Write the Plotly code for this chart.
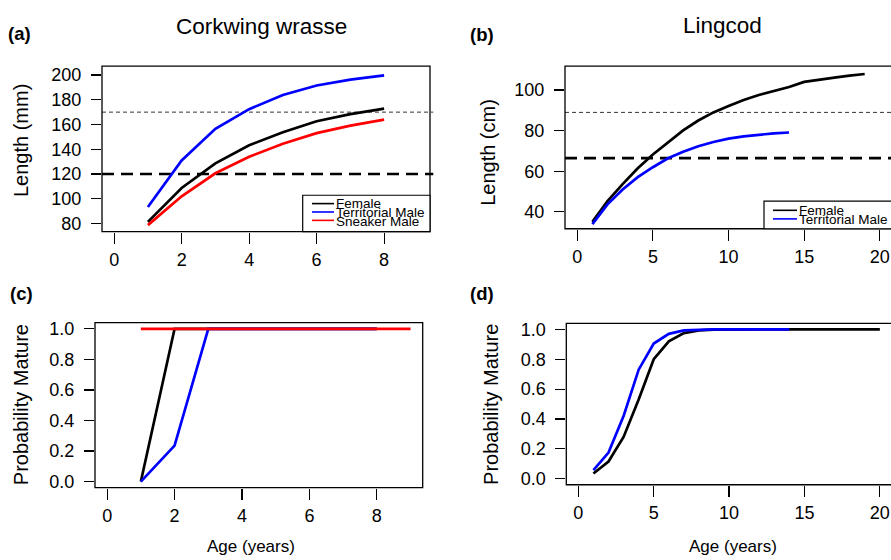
import plotly.graph_objects as go

W, H = 891, 560
FONT = "Liberation Sans, Arial, sans-serif"

# ---------------- data ----------------
ages_cw = [1, 2, 3, 4, 5, 6, 7, 8]
ages_cw_sneak = [1, 2, 3, 4, 5, 6, 7, 8, 9]
cw_female_len = [81.3, 108.7, 128.6, 143.2, 153.8, 162.6, 168.4, 172.9]
cw_terr_len = [93.3, 131.0, 156.5, 172.4, 183.8, 191.5, 196.3, 199.7]
cw_sneak_len = [78.7, 102.0, 120.6, 133.9, 144.5, 153.0, 159.1, 163.9]
cw_female_mat = [0, 1, 1, 1, 1, 1, 1, 1]
cw_terr_mat = [0, 0.235, 1, 1, 1, 1, 1, 1]
cw_sneak_mat = [1, 1, 1, 1, 1, 1, 1, 1, 1]
cw_hlines = [120, 170]  # thick dashed, thin dashed

ages_lc_f = list(range(1, 20))
ages_lc_m = list(range(1, 15))
lc_female_len = [35.1, 45.3, 53.7, 61.5, 68.3, 74.4, 80.1, 85.0, 89.0, 92.2,
                 95.1, 97.6, 99.5, 101.5, 104.0, 105.2, 106.1, 107.1, 107.9]
lc_terr_len = [34.0, 43.7, 51.0, 57.1, 62.0, 66.4, 69.6, 72.3, 74.4, 76.1,
               77.2, 78.0, 78.7, 79.1]
ages_lc_f_mat = list(range(1, 21))
lc_female_mat = [0.035, 0.115, 0.28, 0.53, 0.80, 0.92, 0.975, 0.993, 0.998, 1,
                 1, 1, 1, 1, 1, 1, 1, 1, 1, 1]
lc_terr_mat = [0.058, 0.175, 0.42, 0.73, 0.905, 0.97, 0.993, 0.998, 1, 1,
               1, 1, 1, 1]
lc_hlines = [66.5, 89.0]

cw_x_ticks = [0, 2, 4, 6, 8]
lc_x_ticks = [0, 5, 10, 15, 20]
cw_len_ticks = [80, 100, 120, 140, 160, 180, 200]
lc_len_ticks = [40, 60, 80, 100]
mat_ticks = [0.0, 0.2, 0.4, 0.6, 0.8, 1.0]
mat_tick_text = ["0.0", "0.2", "0.4", "0.6", "0.8", "1.0"]

series_cw = ["Female", "Territorial Male", "Sneaker Male"]
series_lc = ["Female", "Territorial Male"]
colors = {"Female": "black", "Territorial Male": "#0000ff", "Sneaker Male": "#ff0000"}

LW = 2.7

fig = go.Figure()


def line(x, y, color, xa, ya):
    fig.add_trace(go.Scatter(x=x, y=y, mode="lines", line=dict(color=color, width=LW),
                             xaxis=xa, yaxis=ya, showlegend=False, hoverinfo="skip"))


# (a)
line(ages_cw, cw_female_len, colors["Female"], "x", "y")
line(ages_cw, cw_terr_len, colors["Territorial Male"], "x", "y")
line(ages_cw, cw_sneak_len, colors["Sneaker Male"], "x", "y")
# (b)
line(ages_lc_f, lc_female_len, colors["Female"], "x2", "y2")
line(ages_lc_m, lc_terr_len, colors["Territorial Male"], "x2", "y2")
# (c)
line(ages_cw, cw_female_mat, colors["Female"], "x3", "y3")
line(ages_cw, cw_terr_mat, colors["Territorial Male"], "x3", "y3")
line(ages_cw_sneak, cw_sneak_mat, colors["Sneaker Male"], "x3", "y3")
# (d)
line(ages_lc_f_mat, lc_female_mat, colors["Female"], "x4", "y4")
line(ages_lc_m, lc_terr_mat, colors["Territorial Male"], "x4", "y4")


def px(x):
    return x / W


def py(y):
    return 1 - y / H


tickfont = dict(family=FONT, size=18, color="black")


def xax(dom, rng, tv):
    return dict(domain=dom, range=rng, tickvals=tv, ticks="outside", ticklen=11,
                tickwidth=1.2, tickcolor="black", showgrid=False, zeroline=False,
                showline=False, tickfont=tickfont, fixedrange=True, ticklabelstandoff=1)


def yax(dom, rng, tv, tt=None):
    d = dict(domain=dom, range=rng, tickvals=tv, ticks="outside", ticklen=10,
             tickwidth=1.2, tickcolor="black", showgrid=False, zeroline=False,
             showline=False, tickfont=tickfont, fixedrange=True, ticklabelstandoff=6)
    if tt is not None:
        d["ticktext"] = tt
    return d


dom_a_x = [px(102), px(430)]
dom_a_y = [py(231), py(63)]
dom_b_x = [px(565), 1.0]
dom_b_y = [py(228), py(63)]
dom_c_x = [px(95), px(422.7)]
dom_c_y = [py(490.7), py(323.3)]
dom_d_x = [px(566.3), 1.0]
dom_d_y = [py(487.7), py(324)]

fig.update_layout(
    width=W, height=H, margin=dict(l=0, r=0, t=0, b=0),
    paper_bgcolor="white", plot_bgcolor="white", showlegend=False,
    xaxis=dict(**xax(dom_a_x, [-0.36, 9.36], cw_x_ticks), anchor="y"),
    yaxis=dict(**yax(dom_a_y, [73.4, 207.2], cw_len_ticks), anchor="x"),
    xaxis2=dict(**xax(dom_b_x, [-0.81, 20.74], lc_x_ticks), anchor="y2"),
    yaxis2=dict(**yax(dom_b_y, [31.7, 111.8], lc_len_ticks), anchor="x2"),
    xaxis3=dict(**xax(dom_c_x, [-0.36, 9.36], cw_x_ticks), anchor="y3"),
    yaxis3=dict(**yax(dom_c_y, [-0.04, 1.04], mat_ticks, mat_tick_text), anchor="x3"),
    xaxis4=dict(**xax(dom_d_x, [-0.8, 20.74], lc_x_ticks), anchor="y4"),
    yaxis4=dict(**yax(dom_d_y, [-0.04, 1.04], mat_ticks, mat_tick_text), anchor="x4"),
)

shapes = []
# panel boxes
for xr, yr, x1 in [("x", "y", 1), ("x2", "y2", 1.006), ("x3", "y3", 1), ("x4", "y4", 1.006)]:
    shapes.append(dict(type="rect", xref=xr + " domain", yref=yr + " domain",
                       x0=0, x1=x1, y0=0, y1=1, line=dict(color="black", width=1.3),
                       layer="above"))
# reference lines
for xr, yr, hl in [("x", "y", cw_hlines), ("x2", "y2", lc_hlines)]:
    shapes.append(dict(type="line", xref=xr + " domain", yref=yr, x0=0, x1=1.01,
                       y0=hl[0], y1=hl[0], line=dict(color="black", width=2.7, dash="12px,7px"),
                       layer="below"))
    shapes.append(dict(type="line", xref=xr + " domain", yref=yr, x0=0, x1=1.01,
                       y0=hl[1], y1=hl[1], line=dict(color="#333333", width=1, dash="4px,3px"),
                       layer="below"))

annotations = []


def text(x, y, s, size, bold=False, angle=0, xanchor="center"):
    annotations.append(dict(x=px(x), y=py(y), xref="paper", yref="paper", text=(f"<b>{s}</b>" if bold else s),
                            showarrow=False, textangle=angle, xanchor=xanchor, yanchor="middle",
                            font=dict(family=FONT, size=size, color="black")))


# legends
def legend(x0, y0, x1, y1, names, line_x, ys, text_x, text_ys):
    shapes.append(dict(type="rect", xref="paper", yref="paper", x0=px(x0), x1=px(x1),
                       y0=py(y1), y1=py(y0), fillcolor="white",
                       line=dict(color="black", width=1.2), layer="above"))
    for n, yy, ty in zip(names, ys, text_ys):
        shapes.append(dict(type="line", xref="paper", yref="paper", x0=px(line_x[0]), x1=px(line_x[1]),
                           y0=py(yy), y1=py(yy), line=dict(color=colors[n], width=1.6), layer="above"))
        text(text_x, ty, n, 13.5, xanchor="left")


legend(302.7, 194, 430, 231, series_cw, (312, 334), [202.5, 211, 219.5], 334, [202.5, 212, 221])
legend(764, 200, 895, 228, series_lc, (773, 797), [209.3, 218], 797, [209.5, 218.5])

# titles
text(261, 23, "Corkwing wrasse", 22.5)
text(722.5, 22, "Lingcod", 22.5)
# panel labels
text(19, 30, "(a)", 18.5, bold=True)
text(481.5, 31, "(b)", 18.5, bold=True)
text(21, 293.5, "(c)", 18.5, bold=True)
text(481.5, 293.5, "(d)", 18.5, bold=True)
# axis titles
text(21, 139, "Length (mm)", 20, angle=-90)
text(488, 150, "Length (cm)", 20, angle=-90)
text(21, 407, "Probability Mature", 20, angle=-90)
text(491, 406.7, "Probability Mature", 20, angle=-90)
text(250.5, 550, "Age (years)", 17)
text(732.8, 550, "Age (years)", 17)

fig.update_layout(shapes=shapes, annotations=annotations)
fig.write_html("out.html", config={"displayModeBar": False, "staticPlot": True},
               post_script="document.body.style.margin='0';document.body.style.overflow='hidden';")
